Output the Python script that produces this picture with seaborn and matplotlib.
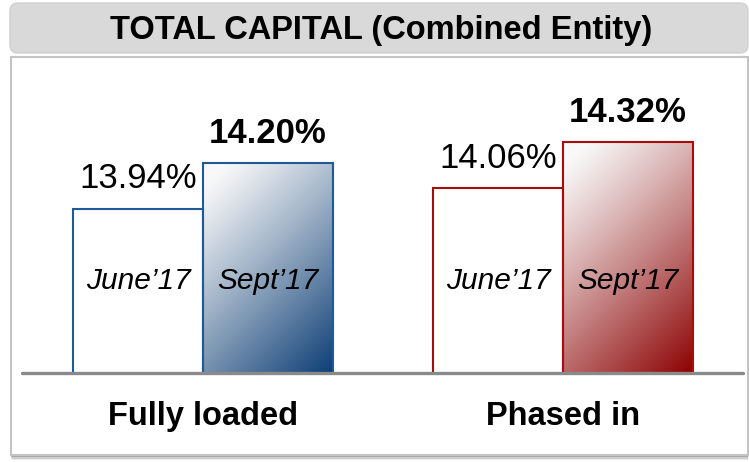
import numpy as np
import pandas as pd
import seaborn as sns
import matplotlib
matplotlib.use("Agg")
import matplotlib.pyplot as plt
from matplotlib.patches import FancyBboxPatch, Rectangle
from matplotlib.colors import to_rgb

# ---- data ----
categories = ["Fully loaded", "Phased in"]
periods = ["June\u201917", "Sept\u201917"]
june_values = [13.94, 14.06]
sept_values = [14.20, 14.32]
title = "TOTAL CAPITAL (Combined Entity)"

df = pd.DataFrame({
    "category": categories * 2,
    "period": [periods[0]] * 2 + [periods[1]] * 2,
    "value": june_values + sept_values,
})

sns.set_style("white")
plt.rcParams["font.family"] = ["Liberation Sans", "DejaVu Sans"]
plt.rcParams["text.color"] = "black"

W, H = 749, 462
fig = plt.figure(figsize=(W / 100, H / 100), dpi=100)

# ---- background (pixel coordinates) ----
bg = fig.add_axes([0, 0, 1, 1])
bg.set_xlim(0, W)
bg.set_ylim(H, 0)
bg.axis("off")
# title box
bg.add_patch(FancyBboxPatch((10, 3), 738, 50, boxstyle="round,pad=0,rounding_size=8",
                            facecolor="#d9d9d9", edgecolor="#d0d0d0", lw=1))
bg.text(381, 30, title, ha="center", va="center", fontsize=23.5, fontweight="bold", color="#000000")
# frame shadow
for i, a in enumerate([0.08, 0.12, 0.18]):
    off = 5 - i * 1.5
    bg.add_patch(Rectangle((10 + off * 0.4, 57 + off), 737, 398, facecolor="#000000", alpha=a, lw=0))
bg.add_patch(Rectangle((10.5, 57), 737, 398, facecolor="white", edgecolor="#c4c4c4", lw=1.5))

# ---- bar chart ----
base_px, top_px = 373, 100
ax = fig.add_axes([0, (H - base_px) / H, 1, (base_px - top_px) / H])
ax.patch.set_alpha(0)
edge_colors = {"Fully loaded": "#1f5a96", "Phased in": "#a80d0d"}
dark_colors = {"Fully loaded": "#0b3d74", "Phased in": "#8c0000"}
sns.barplot(data=df, x="category", y="value", hue="period", hue_order=periods,
            order=categories, width=0.722, palette=["white", "white"], ax=ax,
            legend=False, saturation=1, err_kws={"linewidth": 0})
y0, y1 = 13.0, 14.56
ax.set_ylim(y0, y1)
ax.set_xlim(-0.564, 1.517)
for s in ax.spines.values():
    s.set_visible(False)
ax.set_yticks([])
ax.tick_params(axis="x", length=0, pad=20, labelcolor="black")
ax.set_xlabel("")
ax.set_ylabel("")
ax.set_xticks(range(len(categories)))
ax.set_xticklabels(categories, fontsize=23.5, fontweight="bold", color="black")

light = np.array(to_rgb("#f8f8f8"))
for pi, cont in enumerate(ax.containers):
    for ci, bar in enumerate(cont):
        cat = categories[ci]
        bar.set_edgecolor(edge_colors[cat])
        bar.set_linewidth(1.5)
        bar.set_facecolor("white")
        bar.set_zorder(2)
        x0 = bar.get_x()
        bw = bar.get_width()
        h = bar.get_height()
        cx = x0 + bw / 2
        if pi == 1:
            # diagonal gradient, white top-left -> dark bottom-right
            wpx = 130
            hpx = int((h - y0) / (y1 - y0) * (base_px - top_px))
            xx, yy = np.meshgrid(np.arange(wpx), np.arange(hpx))
            t = (xx + yy) / float(wpx + hpx)
            t = np.clip((t - 0.07) / 0.93, 0, 1) ** 1.1
            dark = np.array(to_rgb(dark_colors[cat]))
            img = light[None, None, :] + (dark - light)[None, None, :] * t[..., None]
            im = ax.imshow(img, extent=[x0, x0 + bw, y0, h], origin="upper",
                           aspect="auto", zorder=1.5, interpolation="bilinear")
            im.set_clip_path(bar)
            bar.set_facecolor("none")
            bar.set_zorder(3)
        # value label
        ax.annotate(f"{h:.2f}%", (cx, h), xytext=(0, 20), textcoords="offset pixels",
                    ha="center", va="baseline", fontsize=25,
                    fontweight="bold" if pi == 1 else "normal", color="#000000",
                    annotation_clip=False)
        # period label inside bar
        ax.text(cx, 0.337, periods[pi], transform=ax.get_xaxis_transform(),
                ha="center", va="center", fontsize=21.5, fontstyle="italic",
                color="#000000", zorder=4)

# baseline
ax.axhline(y0, xmin=22 / W, xmax=743 / W, color="#8a8a8a", lw=2.4, zorder=5, clip_on=False)

fig.savefig("out.png", dpi=100)
